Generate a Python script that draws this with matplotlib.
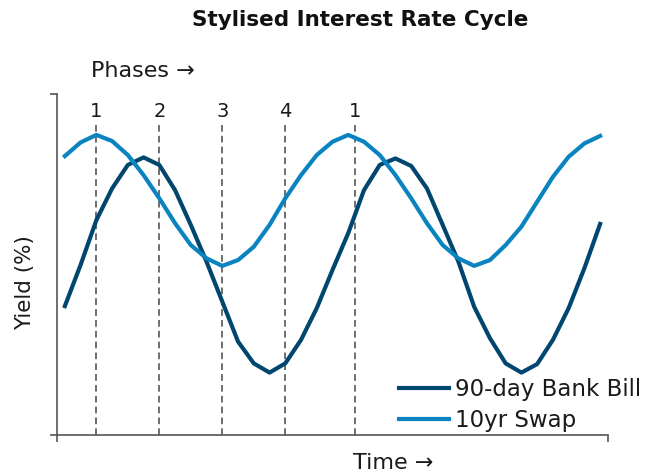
import matplotlib
matplotlib.use("Agg")
import matplotlib.pyplot as plt
import numpy as np

# stylised yields (arbitrary 0-10 scale)
bank_bill = [3.78, 4.99, 6.30, 7.23, 7.92, 8.14, 7.92, 7.18, 6.16, 5.08,
             3.91, 2.74, 2.10, 1.83, 2.10, 2.79, 3.72, 4.84, 5.92, 7.18,
             7.92, 8.11, 7.89, 7.23, 6.16, 5.08, 3.76, 2.84, 2.10, 1.83,
             2.08, 2.79, 3.72, 4.89, 6.19]
swap_10yr = [8.18, 8.58, 8.80, 8.62, 8.21, 7.62, 6.94, 6.21, 5.57, 5.18,
             4.96, 5.13, 5.52, 6.16, 6.94, 7.62, 8.21, 8.60, 8.80, 8.60,
             8.21, 7.62, 6.94, 6.21, 5.57, 5.18, 4.96, 5.13, 5.57, 6.11,
             6.84, 7.57, 8.16, 8.55, 8.77]
phase_pos = [2, 6, 10, 14, 18.45]
phase_labels = ["1", "2", "3", "4", "1"]

dark = "#00466E"
light = "#0A84C1"
txtc = "#1a1a1a"

fig = plt.figure(figsize=(6.45, 4.72), dpi=100)
ax = fig.add_axes([57/645, 1 - 435/472, (608 - 57)/645, (435 - 94)/472])

t = np.arange(len(bank_bill))
ax.plot(t, bank_bill, color=dark, lw=3.0, label="90-day Bank Bill", zorder=3)
ax.plot(t, swap_10yr, color=light, lw=3.0, label="10yr Swap", zorder=3)

for p, lab in zip(phase_pos, phase_labels):
    ax.plot([p, p], [0, 9.15], color="#555555", lw=1.2, ls=(0, (4, 2.5)), zorder=1)
    ax.text(p, 9.2, lab, ha="center", va="bottom", fontsize=14, color=txtc)

ax.set_xlim(-0.5, 34.5)
ax.set_ylim(0, 10)
ax.set_xticks([-0.5, 34.5])
ax.set_yticks([0, 10])
ax.set_xticklabels([])
ax.set_yticklabels([])
ax.tick_params(direction="out", length=5, width=1.2, colors="#555555")
for s in ["top", "right"]:
    ax.spines[s].set_visible(False)
for s in ["left", "bottom"]:
    ax.spines[s].set_color("#555555")
    ax.spines[s].set_linewidth(1.2)

fig.text(25/645, 1 - 283/472, "Yield (%)", rotation=90, ha="center", va="center",
         fontsize=15.5, color=txtc)
fig.text(393/645, 1 - 463/472, "Time \u2192", ha="center", va="center", fontsize=16, color=txtc)
fig.text(143/645, 1 - 71/472, "Phases \u2192", ha="center", va="center", fontsize=16, color=txtc)
fig.text(360/645, 1 - 20/472, "Stylised Interest Rate Cycle", ha="center", va="center",
         fontsize=15.5, fontweight="bold", color="#111111")

leg = fig.legend(loc="center left", bbox_to_anchor=(399/645, 1 - 405/472), frameon=False,
                 fontsize=16.5, handlelength=2.2, handletextpad=0.25, labelspacing=0.35,
                 borderpad=0, borderaxespad=0)
for txt in leg.get_texts():
    txt.set_color(txtc)

fig.savefig("out.png", dpi=100)
